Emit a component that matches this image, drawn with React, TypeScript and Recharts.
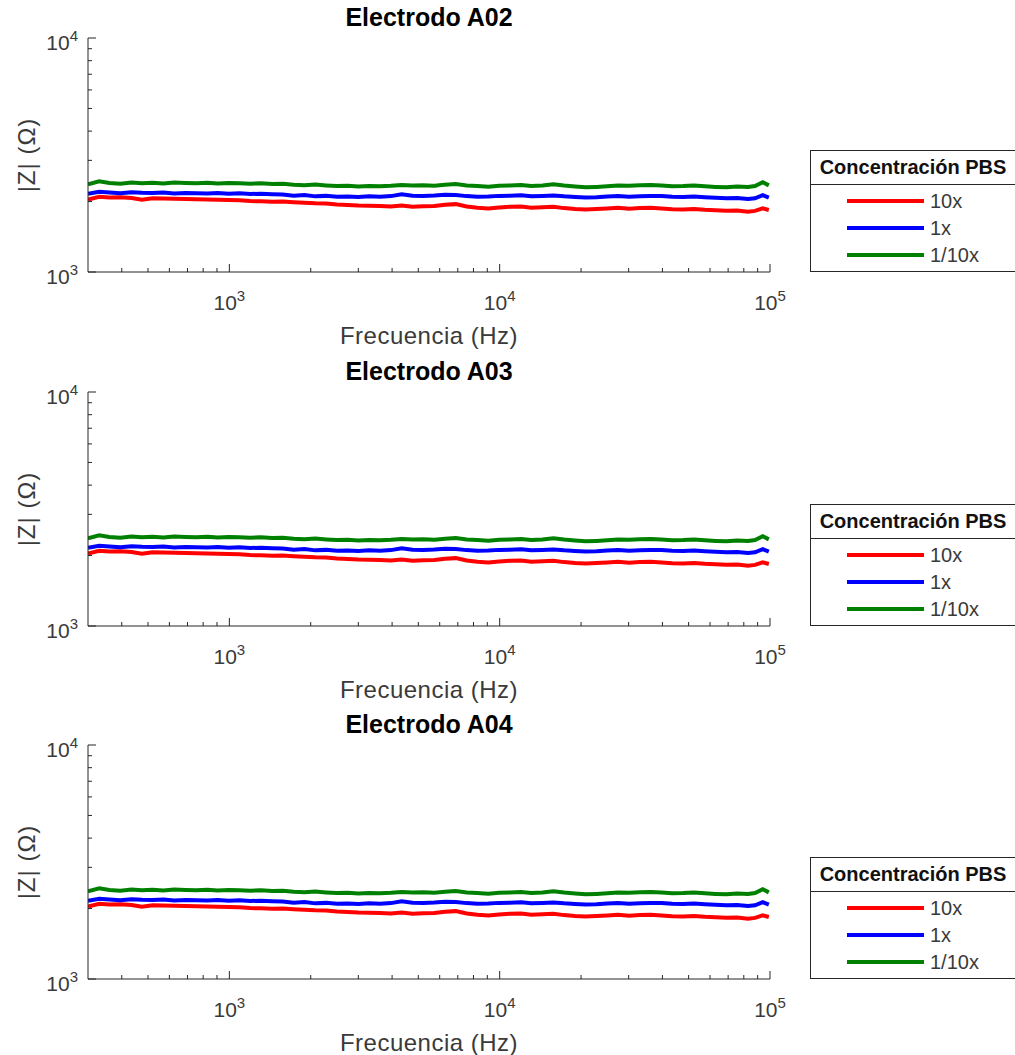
import React from "react";
import { LineChart, Line, XAxis, YAxis } from "recharts";

const titles = ["Electrodo A02", "Electrodo A03", "Electrodo A04"];
const seriesNames = ["10x", "1x", "1/10x"];
const seriesColors = ["#ff0000", "#0000ff", "#008000"];

const freq = [
  300, 330, 360, 395, 435, 475, 520, 570, 625, 690,
  755, 830, 905, 995, 1090, 1195, 1310, 1440, 1575, 1730,
  1895, 2080, 2280, 2500, 2740, 3000, 3290, 3610, 3960, 4340,
  4760, 5220, 5730, 6280, 6880, 7550, 8280, 9080, 9950, 10900,
  12000, 13100, 14400, 15800, 17300, 19000, 20800, 22800, 25000, 27400,
  30100, 33000, 36200, 39700, 43500, 47700, 52300, 57400, 62900, 69000,
  75600, 82900, 88000, 94000, 99000,
];

// 10x
const zRed = [
  2040, 2095, 2080, 2085, 2070, 2035, 2065, 2060, 2055, 2050,
  2045, 2040, 2035, 2030, 2025, 2010, 2005, 1995, 2000, 1985,
  1975, 1965, 1960, 1945, 1935, 1925, 1920, 1915, 1905, 1925,
  1900, 1910, 1915, 1940, 1950, 1905, 1880, 1870, 1885, 1900,
  1905, 1880, 1890, 1900, 1875, 1860, 1850, 1860, 1870, 1880,
  1865, 1875, 1880, 1870, 1855, 1850, 1860, 1845, 1835, 1825,
  1830, 1810, 1825, 1870, 1840,
];

// 1x
const zBlue = [
  2160, 2200, 2185, 2170, 2190, 2180, 2175, 2185, 2165, 2175,
  2170, 2165, 2175, 2160, 2170, 2155, 2160, 2150, 2145, 2120,
  2135, 2105, 2115, 2095, 2100, 2090, 2105, 2095, 2110, 2150,
  2120, 2115, 2125, 2140, 2135, 2110, 2095, 2100, 2115, 2120,
  2130, 2105, 2115, 2125, 2105, 2090, 2080, 2085, 2100, 2110,
  2095, 2105, 2115, 2110, 2095, 2090, 2100, 2085, 2075, 2065,
  2070, 2050, 2065, 2130, 2080,
];

// 1/10x
const zGreen = [
  2370, 2440, 2400, 2385, 2410, 2395, 2405, 2390, 2410, 2400,
  2395, 2405, 2390, 2400, 2395, 2385, 2395, 2380, 2385, 2360,
  2350, 2365, 2345, 2330, 2335, 2320, 2330, 2325, 2335, 2355,
  2345, 2350, 2335, 2360, 2375, 2345, 2330, 2315, 2335, 2345,
  2355, 2330, 2345, 2370, 2340, 2320, 2300, 2310, 2325, 2340,
  2335, 2350, 2355, 2340, 2325, 2330, 2345, 2325, 2310, 2300,
  2320, 2310, 2330, 2420, 2345,
];

const xTicks = [
  400, 500, 600, 700, 800, 900, 1000,
  2000, 3000, 4000, 5000, 6000, 7000, 8000, 9000, 10000,
  20000, 30000, 40000, 50000, 60000, 70000, 80000, 90000, 100000,
];
const yTicks = [1000, 2000, 3000, 4000, 5000, 6000, 7000, 8000, 9000, 10000];

const rows = freq.map((f, i) => ({ f, r: zRed[i], b: zBlue[i], g: zGreen[i] }));
const keys = ["r", "b", "g"];

const FONT = "'Liberation Sans', Arial, Helvetica, sans-serif";
const AXIS = "#262626";
const TXT = "#3a3a3a";

const isMajor = (v: number) => Math.abs(Math.log10(v) - Math.round(Math.log10(v))) < 1e-9;

function XTick(props: any) {
  const { x, y, payload } = props;
  const v = payload.value;
  const major = isMajor(v);
  return (
    <g>
      <line x1={x} x2={x} y1={y} y2={y - (major ? 8 : 4)} stroke={AXIS} strokeWidth={1} />
      {major && (
        <text x={x} y={y + 38} textAnchor="middle" fontSize={21} fill={TXT} fontFamily={FONT}>
          10<tspan dy={-9} fontSize={15}>{Math.round(Math.log10(v))}</tspan>
        </text>
      )}
    </g>
  );
}

function YTick(props: any) {
  const { x, y, payload } = props;
  const v = payload.value;
  const major = isMajor(v);
  return (
    <g>
      <line x1={x} x2={x + (major ? 8 : 4)} y1={y} y2={y} stroke={AXIS} strokeWidth={1} />
      {major && (
        <text x={x - 10} y={y + 12} textAnchor="end" fontSize={21} fill={TXT} fontFamily={FONT}>
          10<tspan dy={-9} fontSize={15}>{Math.round(Math.log10(v))}</tspan>
        </text>
      )}
    </g>
  );
}

function LegendBox() {
  return (
    <div
      style={{
        position: "absolute",
        left: 810,
        top: 150,
        width: 206,
        height: 122,
        boxSizing: "border-box",
        border: `1.5px solid ${AXIS}`,
        background: "#fff",
        fontFamily: FONT,
      }}
    >
      <div
        style={{
          height: 33,
          borderBottom: `1.5px solid ${AXIS}`,
          fontWeight: "bold",
          fontSize: 20,
          lineHeight: "33px",
          textAlign: "center",
          color: "#111",
          whiteSpace: "nowrap",
        }}
      >
        Concentración PBS
      </div>
      {seriesNames.map((name, i) => (
        <div key={name} style={{ position: "absolute", left: 0, top: 51 - 1.5 + i * 27 - 12, height: 24, width: 200 }}>
          <div
            style={{
              position: "absolute",
              left: 36,
              top: 10,
              width: 77,
              height: 4,
              background: seriesColors[i],
            }}
          />
          <div style={{ position: "absolute", left: 119, top: 0, fontSize: 20, lineHeight: "24px", color: TXT }}>
            {name}
          </div>
        </div>
      ))}
    </div>
  );
}

function Panel({ title }: { title: string }) {
  return (
    <div style={{ position: "relative", width: 1015, height: 353 }}>
      <LineChart width={1015} height={353} data={rows} margin={{ top: 38, right: 245, bottom: 80, left: 87 }}>
        <XAxis
          dataKey="f"
          type="number"
          scale="log"
          domain={[300, 100000]}
          allowDataOverflow
          ticks={xTicks}
          interval={0}
          height={1}
          tickSize={0}
          tickMargin={0}
          tick={<XTick />}
          axisLine={{ stroke: AXIS, strokeWidth: 1 }}
        />
        <YAxis
          type="number"
          scale="log"
          domain={[1000, 10000]}
          allowDataOverflow
          ticks={yTicks}
          interval={0}
          width={1}
          tickSize={0}
          tickMargin={0}
          tick={<YTick />}
          axisLine={{ stroke: AXIS, strokeWidth: 1 }}
        />
        {keys.map((k, i) => (
          <Line
            key={k}
            dataKey={k}
            name={seriesNames[i]}
            stroke={seriesColors[i]}
            strokeWidth={4}
            dot={false}
            type="linear"
            isAnimationActive={false}
          />
        ))}
        <text x={429} y={26} textAnchor="middle" fontSize={25} fontWeight="bold" fill="#000" fontFamily={FONT}>
          {title}
        </text>
        <text x={429} y={344} textAnchor="middle" fontSize={24} fill={TXT} fontFamily={FONT} letterSpacing={0.5}>
          Frecuencia (Hz)
        </text>
        <text x={35} y={155} textAnchor="middle" fontSize={24} fill={TXT} fontFamily={FONT} letterSpacing={1} transform="rotate(-90 35 155)">
          |Z| (Ω)
        </text>
      </LineChart>
      <LegendBox />
    </div>
  );
}

export default function App() {
  const tops = [0, 354, 707];
  return (
    <div
      style={{
        position: "absolute",
        left: 0,
        top: 0,
        width: 1015,
        height: 1055,
        overflow: "hidden",
        background: "#fff",
        fontFamily: FONT,
      }}
    >
      {titles.map((t, i) => (
        <div key={t} style={{ position: "absolute", left: 0, top: tops[i] }}>
          <Panel title={t} />
        </div>
      ))}
    </div>
  );
}
